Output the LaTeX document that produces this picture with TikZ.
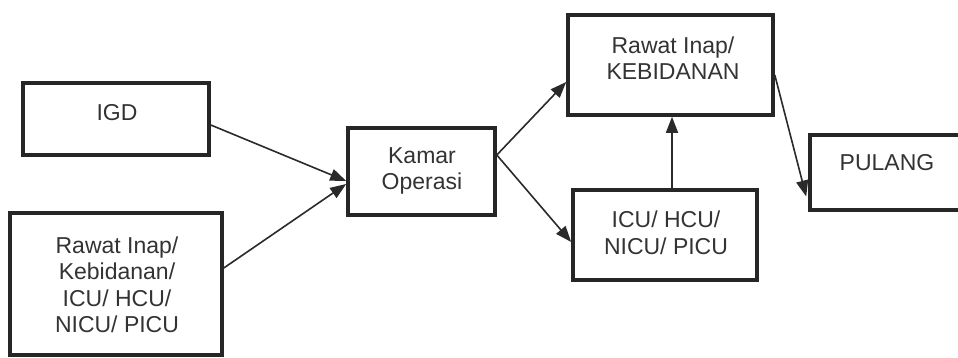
\documentclass[tikz,border=0pt]{standalone}
\usepackage{fontspec}
\setmainfont{Liberation Sans}
\usetikzlibrary{arrows.meta,calc}
\definecolor{boxc}{HTML}{262626}
\definecolor{txtc}{HTML}{333333}
\definecolor{arrc}{HTML}{2A2A2A}
\tikzset{
  box/.style={draw=boxc,line width=3.6pt,rectangle,inner sep=0pt},
  lbl/.style={text=txtc,align=center,inner sep=0pt,font=\fontsize{23}{26.5}\selectfont},
  conn/.style={draw=arrc,line width=1.6pt,arrows={-Triangle[length=16pt,width=12pt]}}}
\begin{document}
\begin{tikzpicture}[x=1pt,y=-1pt]
\useasboundingbox (0,0) rectangle (958,358);
\begin{scope}
\clip (0,0) rectangle (958,358);
% boxes
\node[box,minimum width=186pt,minimum height=72pt] (igd) at (116,119) {};
\node[box,minimum width=212pt,minimum height=142pt] (rin) at (116,284) {};
\node[box,minimum width=147pt,minimum height=87pt] (kamar) at (421.5,171.5) {};
\node[box,minimum width=205pt,minimum height=100pt] (rawat) at (670.5,65) {};
\node[box,minimum width=184pt,minimum height=90pt] (icu) at (665,235) {};
\node[box,minimum width=166pt,minimum height=75pt] (pulang) at (893,172.5) {};
\end{scope}
% texts
\node[lbl] (tigd) at (117,113) {IGD};
\node[lbl] (trin) at (117,285) {Rawat Inap/\\Kebidanan/\\ICU/ HCU/\\NICU/ PICU};
\node[lbl] (tkamar) at (422,171) {Kamar\\Operasi};
\node[lbl] (trawat) at (673,58) {Rawat Inap/\\KEBIDANAN};
\node[lbl] (ticu) at (666,233) {ICU/ HCU/\\NICU/ PICU};
\node[lbl] (tpulang) at (887,163) {PULANG};
% connectors
\draw[conn] ([yshift=-6pt]igd.east) -- ([yshift=-9.5pt]kamar.west);
\draw[conn] ([yshift=16pt]rin.east) -- ([yshift=-12.5pt]kamar.west);
\draw[conn] ([yshift=16.5pt]kamar.east) -- ([yshift=-17pt]rawat.west);
\draw[conn] ([yshift=16.5pt]kamar.east) -- ([yshift=-7pt]icu.west);
\draw[conn] ([xshift=7pt]icu.north) -- ([xshift=1.5pt]rawat.south);
\draw[conn] ([yshift=-10pt]rawat.east) -- ([xshift=-2pt,yshift=-24pt]pulang.west);
\end{tikzpicture}
\end{document}
